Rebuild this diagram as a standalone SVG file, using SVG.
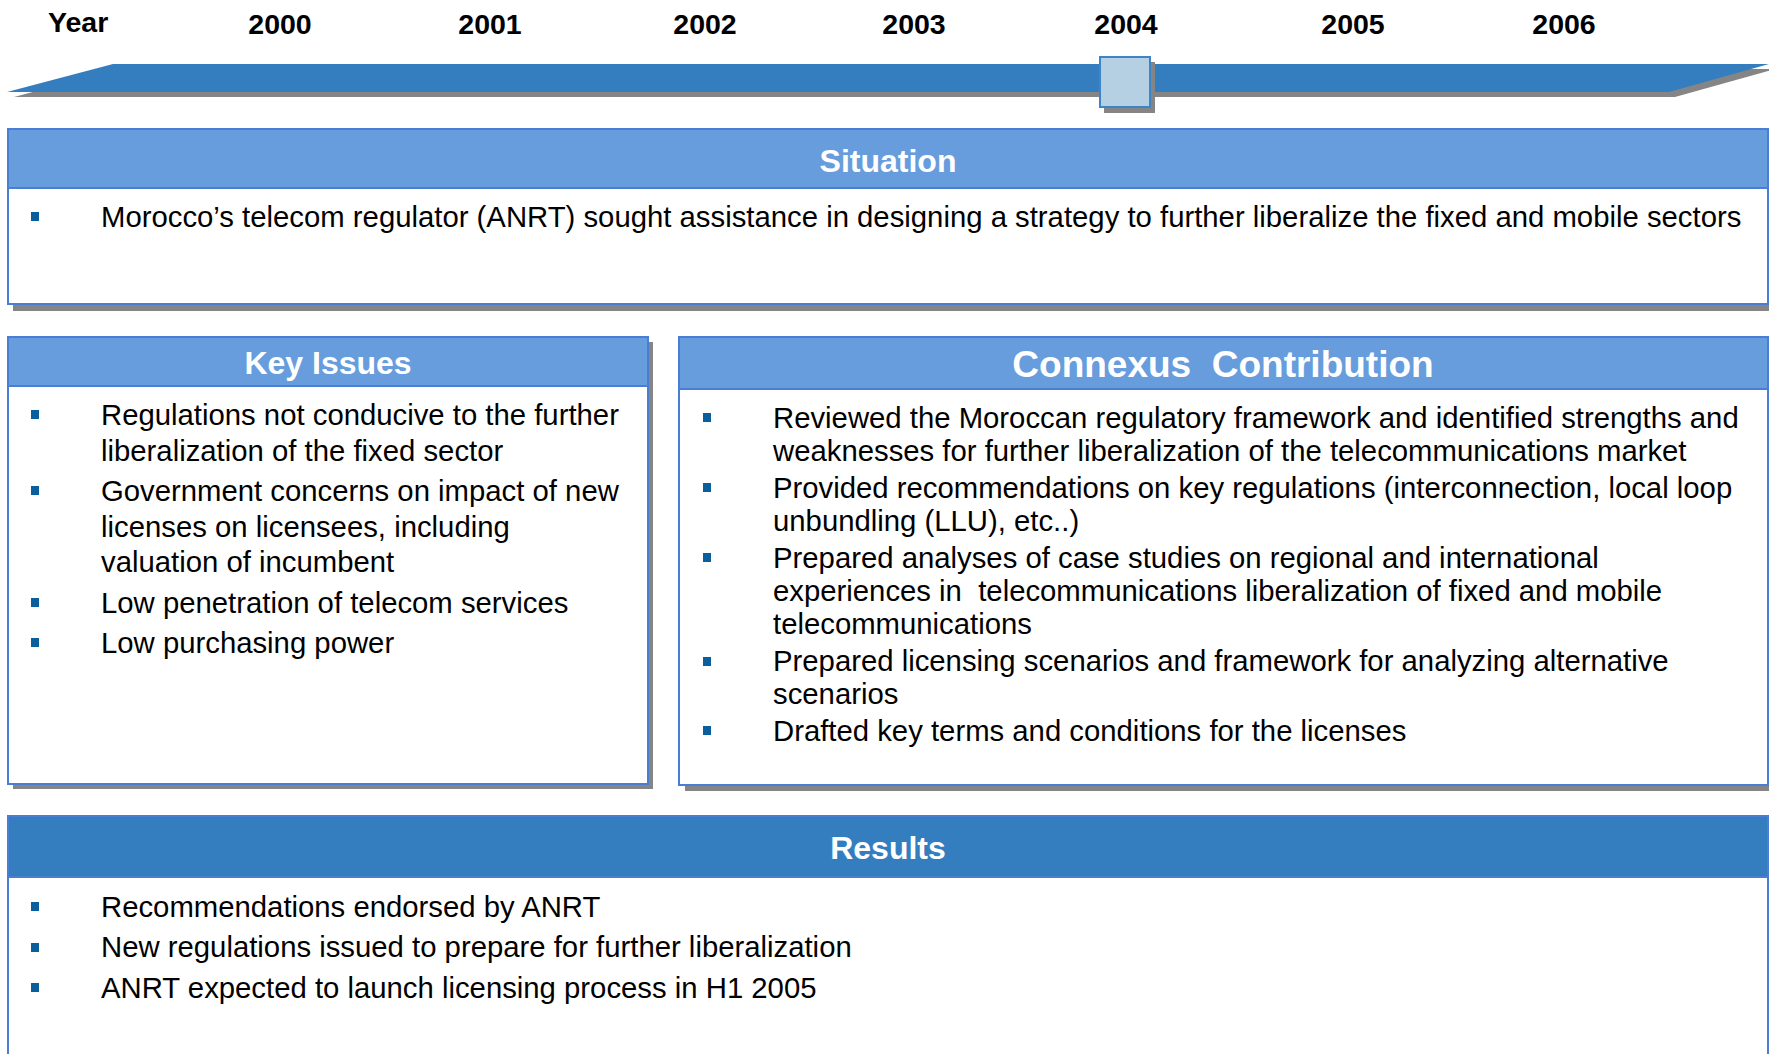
<svg xmlns="http://www.w3.org/2000/svg" width="1769" height="1054" viewBox="0 0 1769 1054">
<defs>
<style>
.yr{font-family:"Liberation Sans",Arial,sans-serif;font-weight:bold;font-size:28.5px;fill:#000;}
.yrc{text-anchor:middle;}
.hd{font-family:"Liberation Sans",Arial,sans-serif;font-weight:bold;font-size:32px;fill:#fff;text-anchor:middle;}
.hd2{font-family:"Liberation Sans",Arial,sans-serif;font-weight:bold;font-size:37px;fill:#fff;text-anchor:middle;}
.tx{font-family:"Liberation Sans",Arial,sans-serif;font-size:29.3px;fill:#000;}
.box{fill:#fff;stroke:#4a7ed4;stroke-width:2;}
.hdr{fill:#679ddd;stroke:#4a7ed4;stroke-width:2;}
.hdr2{fill:#347ec0;stroke:#4a7ed4;stroke-width:2;}
.sh{fill:#858585;}
.bu{fill:#0b5e9c;}
</style>
</defs>
<rect width="1769" height="1054" fill="#fff"/>

<g id="timeline">
<text class="yr" x="48" y="32">Year</text>
<text class="yr yrc" x="280" y="34">2000</text>
<text class="yr yrc" x="490" y="34">2001</text>
<text class="yr yrc" x="705" y="34">2002</text>
<text class="yr yrc" x="914" y="34">2003</text>
<text class="yr yrc" x="1126" y="34">2004</text>
<text class="yr yrc" x="1353" y="34">2005</text>
<text class="yr yrc" x="1564" y="34">2006</text>
<polygon class="sh" points="14,97 119,69 1775,69 1675,97"/>
<polygon fill="#347ec0" points="7,92 113,64 1769,64 1669,92"/>
<rect class="sh" x="1104" y="62" width="51" height="51"/>
<rect x="1100" y="57" width="50" height="50" fill="#b5d0e3" stroke="#3e85c8" stroke-width="2"/>
</g>

<g id="situation">
<rect class="sh" x="13" y="136" width="1756" height="175"/>
<rect class="box" x="8" y="129" width="1760" height="175"/>
<rect class="hdr" x="8" y="129" width="1760" height="59"/>
<text class="hd" x="888" y="172">Situation</text>
<rect class="bu" x="31" y="212" width="8" height="9"/>
<text class="tx" x="101" y="227">Morocco’s telecom regulator (ANRT) sought assistance in designing a strategy to further liberalize the fixed and mobile sectors</text>
</g>

<g id="key-issues">
<rect class="sh" x="13" y="342" width="640" height="447"/>
<rect class="box" x="8" y="337" width="640" height="447"/>
<rect class="hdr" x="8" y="337" width="640" height="49"/>
<text class="hd" x="328" y="374">Key Issues</text>
<rect class="bu" x="31" y="410" width="8" height="9"/>
<text class="tx" x="101" y="425">Regulations not conducive to the further</text>
<text class="tx" x="101" y="461">liberalization of the fixed sector</text>
<rect class="bu" x="31" y="486" width="8" height="9"/>
<text class="tx" x="101" y="501">Government concerns on impact of new</text>
<text class="tx" x="101" y="537">licenses on licensees, including</text>
<text class="tx" x="101" y="572">valuation of incumbent</text>
<rect class="bu" x="31" y="598" width="8" height="9"/>
<text class="tx" x="101" y="613">Low penetration of telecom services</text>
<rect class="bu" x="31" y="638" width="8" height="9"/>
<text class="tx" x="101" y="653">Low purchasing power</text>
</g>

<g id="contribution">
<rect class="sh" x="685" y="343" width="1084" height="448"/>
<rect class="box" x="679" y="337" width="1089" height="448"/>
<rect class="hdr" x="679" y="337" width="1089" height="52"/>
<text class="hd2" x="1223" y="377" xml:space="preserve">Connexus  Contribution</text>
<rect class="bu" x="703" y="413" width="8" height="9"/>
<text class="tx" x="773" y="428">Reviewed the Moroccan regulatory framework and identified strengths and</text>
<text class="tx" x="773" y="461">weaknesses for further liberalization of the telecommunications market</text>
<rect class="bu" x="703" y="483" width="8" height="9"/>
<text class="tx" x="773" y="498">Provided recommendations on key regulations (interconnection, local loop</text>
<text class="tx" x="773" y="531">unbundling (LLU), etc..)</text>
<rect class="bu" x="703" y="553" width="8" height="9"/>
<text class="tx" x="773" y="568">Prepared analyses of case studies on regional and international</text>
<text class="tx" x="773" y="601" xml:space="preserve">experiences in  telecommunications liberalization of fixed and mobile</text>
<text class="tx" x="773" y="634">telecommunications</text>
<rect class="bu" x="703" y="657" width="8" height="9"/>
<text class="tx" x="773" y="671">Prepared licensing scenarios and framework for analyzing alternative</text>
<text class="tx" x="773" y="704">scenarios</text>
<rect class="bu" x="703" y="726" width="8" height="9"/>
<text class="tx" x="773" y="741">Drafted key terms and conditions for the licenses</text>
</g>

<g id="results">
<rect class="box" x="8" y="816" width="1760" height="260"/>
<rect class="hdr2" x="8" y="816" width="1760" height="61"/>
<text class="hd" x="888" y="859">Results</text>
<rect class="bu" x="31" y="902" width="8" height="9"/>
<text class="tx" x="101" y="917">Recommendations endorsed by ANRT</text>
<rect class="bu" x="31" y="943" width="8" height="9"/>
<text class="tx" x="101" y="957">New regulations issued to prepare for further liberalization</text>
<rect class="bu" x="31" y="983" width="8" height="9"/>
<text class="tx" x="101" y="998">ANRT expected to launch licensing process in H1 2005</text>
</g>

<g id="connectors"></g>
</svg>
